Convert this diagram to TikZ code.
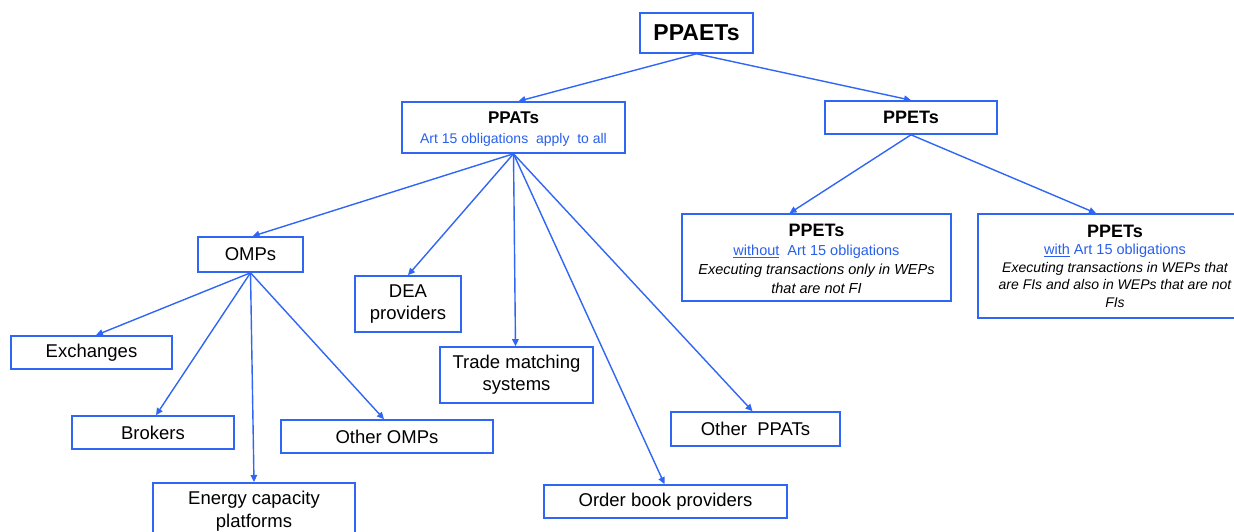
\documentclass[tikz,border=0pt]{standalone}
\usepackage{fontspec}
\setmainfont{Liberation Sans}
\usetikzlibrary{arrows.meta,calc}
\definecolor{lnblue}{RGB}{47,102,245}
\definecolor{txblue}{RGB}{40,95,235}
\tikzset{
  box/.style={draw=lnblue, line width=1.6pt, rectangle, inner sep=0pt, align=center, font=\fontsize{18.5}{22}\selectfont, text=black},
  conn/.style={draw=lnblue, line width=1.4pt, -{Triangle[length=7pt,width=6.5pt]}},
  boxtext/.style={align=center, inner sep=0pt, text=black},
}
\begin{document}
\begin{tikzpicture}[x=1pt,y=-1pt]
\useasboundingbox (0,0) rectangle (1234,532);
\node[box, minimum width=113pt, minimum height=40pt, font=\fontsize{23}{27}\selectfont\bfseries] (ppaets) at (696.5,33) {PPAETs};
\node[box, minimum width=223pt, minimum height=51pt] (ppats) at (513.5,127.5) {};
\node[boxtext, font=\fontsize{14}{20}\selectfont] (ppatstxt) at (513.5,129) {{\fontsize{17}{20}\selectfont\bfseries PPATs}\\{\color{txblue}Art 15 obligations\ \ apply\ \ to all}};
\node[box, minimum width=172pt, minimum height=33pt, font=\fontsize{18}{21}\selectfont\bfseries] (ppets) at (911,117.5) {PPETs};
\node[box, minimum width=269pt, minimum height=87pt] (without) at (816.5,257.5) {};
\node[boxtext, font=\fontsize{14.5}{19}\selectfont] (withouttxt) at (816.5,259) {{\fontsize{18}{19}\selectfont\bfseries PPETs}\\{\color{txblue}\underline{without}\ \ Art 15 obligations}\\{\itshape Executing transactions only in WEPs}\\{\itshape that are not FI}};
\node[box, minimum width=274pt, minimum height=104pt] (with) at (1115,266) {};
\node[boxtext, font=\fontsize{14}{17.5}\selectfont] (withtxt) at (1115,266) {{\fontsize{18}{19}\selectfont\bfseries PPETs}\\{\fontsize{14.5}{19}\selectfont\color{txblue}\underline{with}\ Art 15 obligations}\\{\itshape Executing transactions\ in WEPs that}\\{\itshape are FIs and also in WEPs that are not}\\{\itshape FIs}};
\node[box, minimum width=105pt, minimum height=35pt] (omps) at (250.5,254.5) {OMPs};
\node[box, minimum width=106pt, minimum height=56pt] (dea) at (408,304) {DEA\\providers};
\node[box, minimum width=153pt, minimum height=56pt] (trade) at (516.5,375) {Trade matching\\systems};
\node[box, minimum width=169pt, minimum height=34pt] (otherppats) at (755.5,429) {Other\ \ PPATs};
\node[box, minimum width=243pt, minimum height=33pt] (order) at (665.5,501.5) {Order book providers};
\node[box, minimum width=161pt, minimum height=33pt] (exch) at (91.5,352.5) {Exchanges};
\node[box, minimum width=162pt, minimum height=33pt] (brokers) at (153,432.5) {Brokers};
\node[box, minimum width=212pt, minimum height=33pt] (otheromps) at (387,436.5) {Other OMPs};
\node[box, minimum width=202pt, minimum height=66pt, anchor=north] (energy) at (254,482) {};
\node[boxtext, font=\fontsize{18.5}{23}\selectfont, anchor=north] (energytxt) at (254,491) {Energy capacity\\platforms};
% connectors
\draw[conn] (ppaets.south) -- ([xshift=5pt]ppats.north);
\draw[conn] (ppaets.south) -- (ppets.north);
\draw[conn] (ppats.south) -- ([xshift=2pt]omps.north);
\draw[conn] (ppats.south) -- (dea.north);
\draw[conn] (ppats.south) -- ([xshift=-1pt]trade.north);
\draw[conn] (ppats.south) -- ([xshift=-1pt]order.north);
\draw[conn] (ppats.south) -- ([xshift=-3pt]otherppats.north);
\draw[conn] (ppets.south) -- ([xshift=-27pt]without.north);
\draw[conn] (ppets.south) -- ([xshift=-19pt]with.north);
\draw[conn] (omps.south) -- ([xshift=4.5pt]exch.north);
\draw[conn] (omps.south) -- ([xshift=3pt]brokers.north);
\draw[conn] (omps.south) -- (energy.north);
\draw[conn] (omps.south) -- ([xshift=-3pt]otheromps.north);
\end{tikzpicture}
\end{document}
